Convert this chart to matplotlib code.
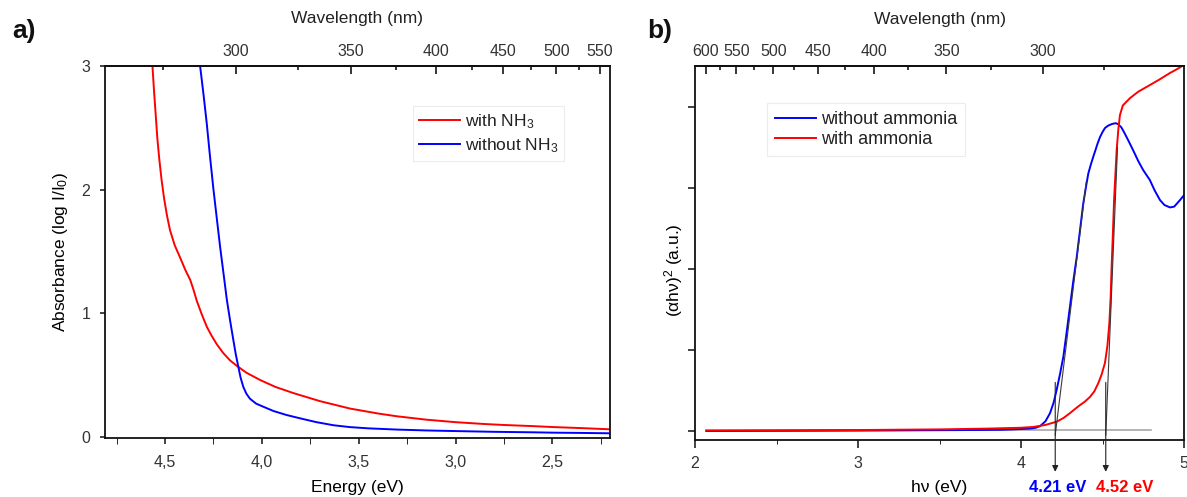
import numpy as np
import matplotlib
matplotlib.use("Agg")
import matplotlib.pyplot as plt
from matplotlib.ticker import FixedLocator, FuncFormatter, NullFormatter

plt.rcParams['font.family'] = ['Liberation Sans', 'DejaVu Sans']
plt.rcParams['mathtext.fontset'] = 'custom'
plt.rcParams['mathtext.rm'] = 'Liberation Sans'
plt.rcParams['mathtext.it'] = 'Liberation Sans:italic'
plt.rcParams['text.color'] = '#222222'

# ---- panel a: absorbance vs energy ----
red_a_E = [4.585, 4.565, 4.557, 4.548, 4.540, 4.530, 4.518, 4.505, 4.49, 4.474, 4.45, 4.422,
           4.395, 4.370, 4.355, 4.336, 4.31, 4.284, 4.26, 4.233, 4.20, 4.165, 4.129, 4.08,
           4.008, 3.93, 3.837, 3.70, 3.545, 3.40, 3.305, 3.15, 3.0, 2.85, 2.747, 2.60,
           2.49, 2.35, 2.20]
red_a_A = [3.25, 3.0, 2.80, 2.60, 2.42, 2.25, 2.08, 1.93, 1.79, 1.67, 1.55, 1.45,
           1.35, 1.27, 1.20, 1.10, 0.99, 0.89, 0.82, 0.75, 0.68, 0.62, 0.575, 0.52,
           0.46, 0.405, 0.355, 0.29, 0.23, 0.19, 0.168, 0.14, 0.12, 0.105, 0.097, 0.088,
           0.08, 0.072, 0.062]

blue_a_E = [4.33, 4.319, 4.30, 4.285, 4.268, 4.25, 4.233, 4.216, 4.198, 4.181, 4.164, 4.147,
            4.135, 4.122, 4.11, 4.096, 4.08, 4.062, 4.03, 3.993, 3.94, 3.873, 3.80, 3.718,
            3.63, 3.545, 3.45, 3.30, 3.15, 3.0, 2.80, 2.60, 2.49, 2.35, 2.20]
blue_a_A = [3.1, 3.0, 2.75, 2.54, 2.27, 2.0, 1.77, 1.54, 1.32, 1.11, 0.94, 0.78,
            0.67, 0.57, 0.48, 0.405, 0.35, 0.31, 0.27, 0.245, 0.21, 0.178, 0.15, 0.12,
            0.095, 0.08, 0.07, 0.06, 0.053, 0.048, 0.042, 0.038, 0.035, 0.033, 0.03]

# ---- panel b: Tauc plot ----
blue_b_E = [2.07, 2.5, 3.0, 3.5, 3.871, 3.95, 4.055, 4.09, 4.117, 4.15, 4.178, 4.20,
            4.219, 4.24, 4.26, 4.28, 4.30, 4.32, 4.342, 4.362, 4.382, 4.40, 4.413, 4.43,
            4.444, 4.454, 4.47, 4.485, 4.50, 4.515, 4.535, 4.558, 4.58, 4.595, 4.615, 4.632,
            4.66, 4.687, 4.72, 4.75, 4.79, 4.82, 4.853, 4.88, 4.914, 4.94, 4.975, 5.0]
blue_b_Y = [0.0, 0.002, 0.005, 0.01, 0.015, 0.02, 0.03, 0.04, 0.06, 0.12, 0.22, 0.35,
            0.51, 0.71, 0.92, 1.22, 1.53, 1.84, 2.15, 2.48, 2.81, 3.03, 3.18, 3.30,
            3.39, 3.45, 3.55, 3.63, 3.69, 3.74, 3.77, 3.79, 3.80, 3.79, 3.75, 3.69,
            3.58, 3.47, 3.33, 3.22, 3.10, 2.97, 2.85, 2.79, 2.76, 2.77, 2.85, 2.91]

red_b_E = [2.07, 2.5, 3.0, 3.5, 3.8, 4.0, 4.076, 4.15, 4.219, 4.26, 4.30, 4.33,
           4.362, 4.39, 4.423, 4.45, 4.474, 4.495, 4.515, 4.53, 4.542, 4.55, 4.556, 4.564,
           4.571, 4.58, 4.587, 4.597, 4.607, 4.625, 4.669, 4.72, 4.79, 4.85, 4.914, 4.96, 5.0]
red_b_Y = [0.005, 0.008, 0.012, 0.02, 0.03, 0.04, 0.05, 0.075, 0.115, 0.16, 0.22, 0.27,
           0.32, 0.36, 0.42, 0.49, 0.59, 0.70, 0.84, 1.05, 1.33, 1.65, 2.03, 2.45,
           2.85, 3.2, 3.47, 3.72, 3.90, 4.02, 4.11, 4.19, 4.27, 4.34, 4.42, 4.47, 4.52]

gaps = [4.21, 4.52]
gap_labels = ['4.21 eV', '4.52 eV']
gap_colors = ['blue', 'red']
tangent_top = [(4.40, 3.07), (4.592, 3.5)]

wl_major_a = [300, 350, 400, 450, 500, 550]
wl_minor_a = [275, 325, 375, 425, 475, 525]
wl_major_b = [300, 350, 400, 450, 500, 550, 600]
wl_minor_b = [275, 325, 375, 425, 475, 525, 575]

W, H = 1187, 497
fig = plt.figure(figsize=(W / 100, H / 100), dpi=100)


def rect(l, t, r, b):
    return [l / W, 1 - b / H, (r - l) / W, (b - t) / H]


def ev2nm(x):
    x = np.asarray(x, dtype=float)
    with np.errstate(divide='ignore'):
        return 1239.84 / x


def style(ax):
    for s in ax.spines.values():
        s.set_linewidth(1.3)
        s.set_color('#111111')
    ax.tick_params(labelsize=11.5, colors='#111111', labelcolor='#333333', width=1.1)


def top_axis(ax, major, minor):
    sec = ax.secondary_xaxis('top', functions=(ev2nm, ev2nm))
    sec.set_xticks(major)
    sec.xaxis.set_minor_locator(FixedLocator(minor))
    sec.xaxis.set_minor_formatter(NullFormatter())
    sec.tick_params(which='both', direction='in', labelsize=11.5, labelcolor='#333333', width=1.1, pad=5)
    sec.tick_params(which='major', length=5.5)
    sec.tick_params(which='minor', length=3)
    sec.spines['top'].set_linewidth(1.3)
    return sec


# ---------- panel a ----------
ax1 = fig.add_axes(rect(105, 66, 610, 438))
style(ax1)
ax1.plot(red_a_E, red_a_A, color='red', lw=1.4, label='with NH$\\mathregular{_3}$')
ax1.plot(blue_a_E, blue_a_A, color='blue', lw=1.4, label='without NH$\\mathregular{_3}$')
ax1.set_xlim(4.81, 2.203)
ax1.set_ylim(-0.008, 3.0)
ax1.set_yticks([0, 1, 2, 3])
ax1.set_xticks([4.5, 4.0, 3.5, 3.0, 2.5])
ax1.xaxis.set_minor_locator(FixedLocator([4.75, 4.25, 3.75, 3.25, 2.75, 2.25]))
ax1.xaxis.set_major_formatter(FuncFormatter(lambda v, p: f'{v:.1f}'.replace('.', ',')))
ax1.tick_params(axis='x', which='both', direction='out', length=4, pad=8)
ax1.tick_params(axis='y', direction='out', length=3.5, pad=7)
ax1.set_xlabel('Energy (eV)', fontsize=12.5, va='center')
ax1.xaxis.set_label_coords(0.5, -0.132)
ax1.set_ylabel('Absorbance (log I/I$\\mathregular{_0}$)', fontsize=12.5, va='center')
ax1.yaxis.set_label_coords(-0.089, 0.5)
top_axis(ax1, wl_major_a, wl_minor_a)
ax1.text(0.5, 1.129, 'Wavelength (nm)', transform=ax1.transAxes, ha='center', va='center', fontsize=12.5)
leg1 = ax1.legend(loc='upper left', bbox_to_anchor=(0.609, 0.892), borderaxespad=0,
                  fontsize=12.5, handlelength=2.4, handletextpad=0.25, labelspacing=0.3,
                  borderpad=0.35, fancybox=False, framealpha=1)
leg1.get_frame().set_edgecolor('#ececec')
leg1.get_frame().set_linewidth(0.8)
fig.text(24 / W, 1 - 31 / H, 'a)', fontsize=19, fontweight='bold', ha='center', va='center',
         color='#111111')

# ---------- panel b ----------
ax2 = fig.add_axes(rect(695, 66, 1184, 440))
style(ax2)
ax2.plot(blue_b_E, blue_b_Y, color='blue', lw=1.4, label='without ammonia')
ax2.plot(red_b_E, red_b_Y, color='red', lw=1.4, label='with ammonia')
ax2.plot([2.07, 4.80], [0.01, 0.01], color='#a8a8a8', lw=1.2, zorder=1)
for ex, (tx, ty) in zip(gaps, tangent_top):
    ax2.plot([ex, tx], [-0.05, ty], color='#3a3a3a', lw=0.8, zorder=3)
    ax2.annotate('', xy=(ex, -0.085), xycoords=('data', 'axes fraction'),
                 xytext=(ex, 0.6), textcoords='data', annotation_clip=False,
                 arrowprops=dict(arrowstyle='-|>', color='#222222', lw=0.8,
                                 mutation_scale=9, shrinkA=0, shrinkB=0))
# value labels sit under the arrows, shifted so they do not collide
for lx, lab, col in zip([1058, 1125], gap_labels, gap_colors):
    fig.text(lx / W, 1 - 487 / H, lab, ha='center', va='center',
             fontsize=12, fontweight='bold', color=col)
ax2.set_xlim(2, 5)
ax2.set_ylim(-0.111, 4.506)
ax2.set_yticks([0, 1, 2, 3, 4])
ax2.set_yticklabels([])
ax2.set_xticks([2, 3, 4, 5])
ax2.xaxis.set_minor_locator(FixedLocator([2.5, 3.5, 4.5]))
ax2.tick_params(axis='x', which='major', direction='out', length=5.5, pad=6)
ax2.tick_params(axis='x', which='minor', direction='out', length=3)
ax2.tick_params(axis='y', direction='out', length=5)
ax2.set_xlabel('h\u03bd (eV)', fontsize=12.5, va='center')
ax2.xaxis.set_label_coords(0.5, -0.126)
ax2.set_ylabel('(\u03b1h\u03bd)$\\mathregular{^2}$ (a.u.)', fontsize=12.5, va='center')
ax2.yaxis.set_label_coords(-0.043, 0.455)
top_axis(ax2, wl_major_b, wl_minor_b)
ax2.text(0.5, 1.125, 'Wavelength (nm)', transform=ax2.transAxes, ha='center', va='center', fontsize=12.5)
leg2 = ax2.legend(loc='upper left', bbox_to_anchor=(0.147, 0.901), borderaxespad=0,
                  fontsize=13, handlelength=2.25, handletextpad=0.28, labelspacing=0.15,
                  borderpad=0.45, fancybox=False, framealpha=1)
leg2.get_frame().set_edgecolor('#ececec')
leg2.get_frame().set_linewidth(0.8)
fig.text(660 / W, 1 - 31 / H, 'b)', fontsize=19, fontweight='bold', ha='center', va='center',
         color='#111111')

fig.savefig('out.png', dpi=100)
